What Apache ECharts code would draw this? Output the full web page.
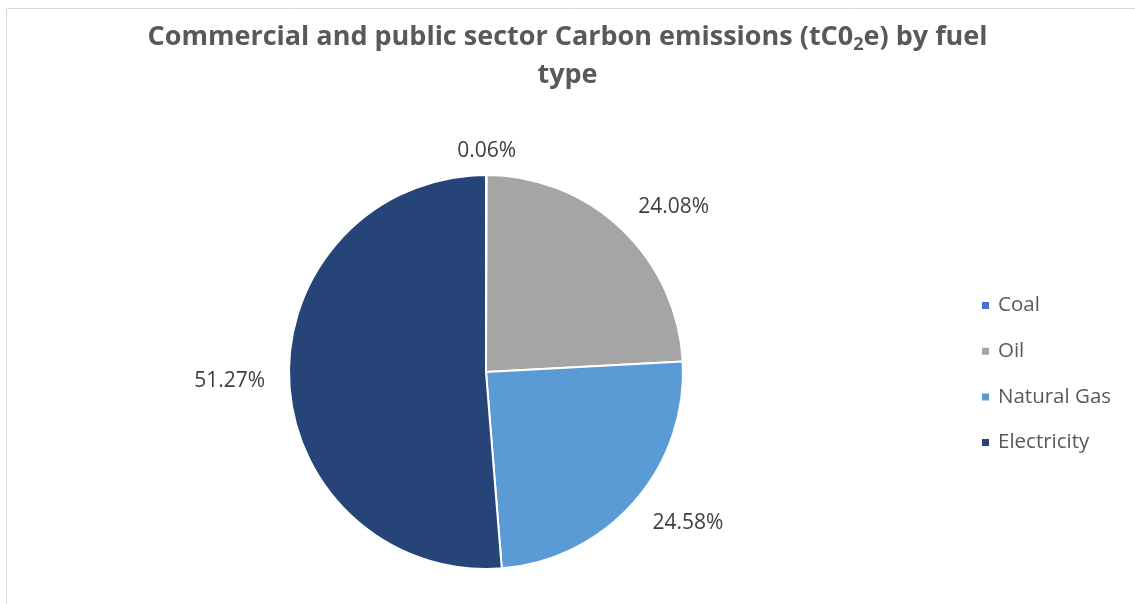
<!DOCTYPE html>
<html>
<head>
<meta charset="utf-8">
<script src="https://cdn.jsdelivr.net/npm/echarts@6/dist/echarts.min.js"></script>
<style>
  html, body { margin: 0; padding: 0; background: #ffffff; }
  #chart { width: 1135px; height: 604px; }
</style>
</head>
<body>
<div id="chart"></div>
<script>
// Fuel types and their share of commercial/public sector emissions (%)
const fuelTypes = ['Coal', 'Oil', 'Natural Gas', 'Electricity'];
const emissionShares = [0.06, 24.08, 24.58, 51.27];
const sliceColors = ['#4472C4', '#A5A5A5', '#5B9BD5', '#264478'];

// Mid-angle of each slice, measured clockwise from 12 o'clock
const total = emissionShares.reduce((a, b) => a + b, 0);
const midAngles = [];
let running = 0;
emissionShares.forEach(v => {
  midAngles.push(2 * Math.PI * (running + v / 2) / total);
  running += v;
});

const clamp = v => Math.max(-1, Math.min(1, v));

const chart = echarts.init(document.getElementById('chart'), null, { renderer: 'canvas' });

chart.setOption({
  backgroundColor: '#ffffff',
  animation: false,
  color: sliceColors,
  graphic: [{
    type: 'rect',
    silent: true,
    shape: { x: 6.5, y: 8.5, width: 1400, height: 800 },
    style: { fill: 'none', stroke: '#d9d9d9', lineWidth: 1 }
  }],
  title: {
    left: 'center',
    top: 13,
    text: '{t|Commercial and public sector Carbon emissions (tC0}{s|2}{t|e) by fuel}\n{t|type}',
    textStyle: {
      rich: {
        t: { fontFamily: 'Open Sans', fontWeight: 'bold', fontSize: 27, color: '#595959', lineHeight: 38 },
        s: { fontFamily: 'Open Sans', fontWeight: 'bold', fontSize: 18, color: '#595959', lineHeight: 38, padding: [16, 0, 0, 0] }
      }
    }
  },
  legend: {
    orient: 'vertical',
    left: 980,
    top: 295,
    padding: 0,
    icon: 'rect',
    itemWidth: 9,
    itemHeight: 9,
    itemGap: 24.7,
    data: fuelTypes,
    textStyle: {
      fontFamily: 'Open Sans',
      fontSize: 20.5,
      color: '#595959',
      lineHeight: 20,
      padding: [0, 0, 0, 3]
    }
  },
  series: [{
    type: 'pie',
    center: [486, 372],
    radius: 197,
    startAngle: 90,
    clockwise: true,
    avoidLabelOverlap: false,
    itemStyle: { borderColor: '#ffffff', borderWidth: 2 },
    label: {
      show: true,
      position: 'outside',
      distanceToLabelLine: 0,
      fontFamily: 'Open Sans',
      fontSize: 21,
      color: '#404040',
      formatter: p => p.value.toFixed(2) + '%'
    },
    labelLine: { show: false, length: 24, length2: 0 },
    // Keep each label just outside its slice; labels near the top or bottom sit centred over it
    labelLayout: function (params) {
      const a = midAngles[params.dataIndex];
      const s = Math.sin(a), c = Math.cos(a);
      const w = params.labelRect.width, h = params.labelRect.height;
      const side = s < 0 ? -1 : 1;
      return {
        dx: (w / 2) * clamp(3 * s) - (w / 2) * side,
        dy: -(h / 2) * c * Math.abs(s)
      };
    },
    data: fuelTypes.map((name, i) => ({ name: name, value: emissionShares[i] }))
  }]
});
</script>
</body>
</html>
